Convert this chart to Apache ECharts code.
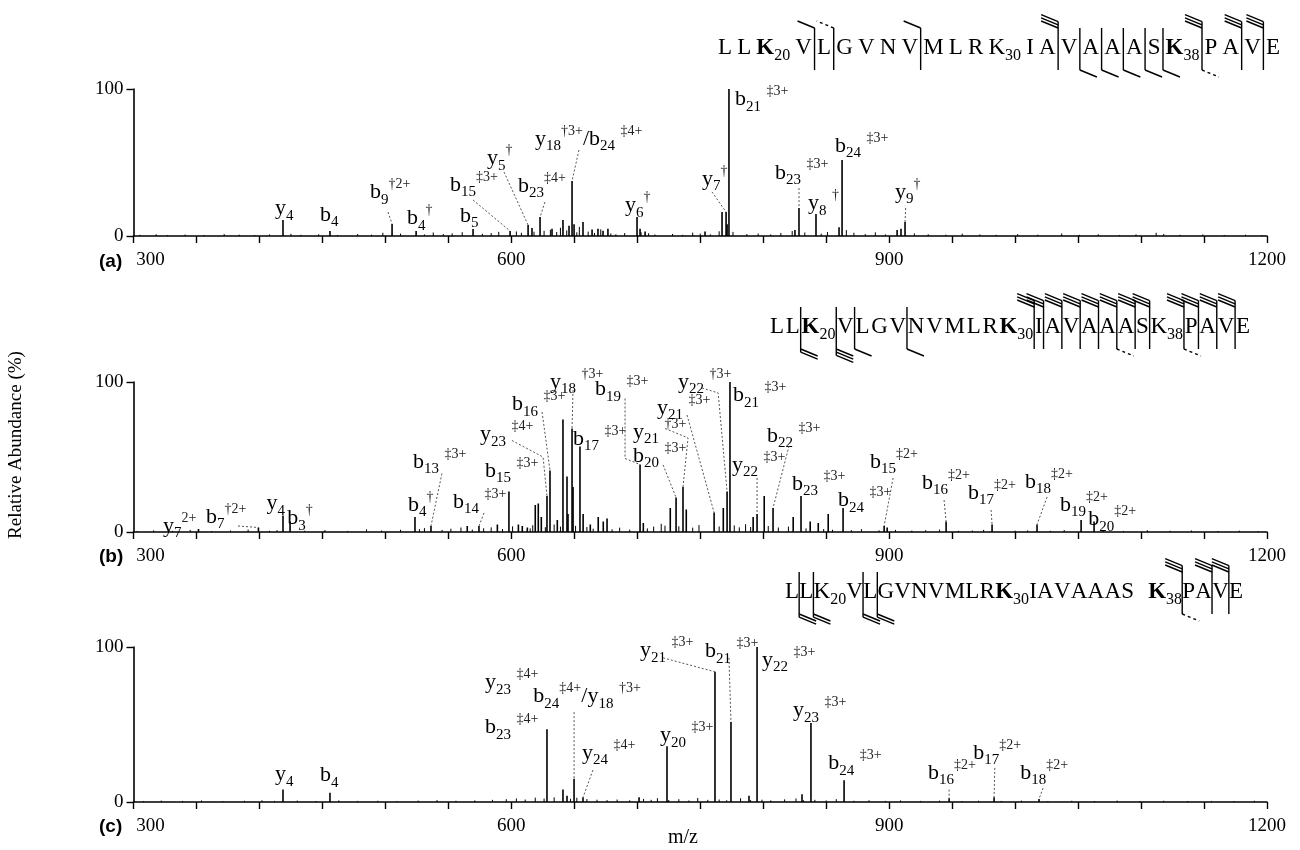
<!DOCTYPE html>
<html>
<head>
<meta charset="utf-8">
<script src="https://cdn.jsdelivr.net/npm/echarts@6/dist/echarts.min.js"></script>
<style>html,body{margin:0;padding:0;background:#fff}#main{width:1300px;height:850px}</style>
</head>
<body>
<div id="main"></div>
<script>
// ---------- spectrum data: [m/z, relative abundance %] ----------
const peaksA = [[418.7,10.9],[456.0,3.4],[505.3,8.2],[524.4,3.4],[569.6,4.8],[599.0,3.4],[613.3,7.5],[616.4,5.4],[622.8,12.9],[632.3,5],[641.0,10.9],[645.8,7],[648.2,37.4],[649.8,8],[656.9,9.5],[664.1,4.5],[668.8,5],[672.8,3.5],[676.7,5],[699.8,12.9],[702.2,5],[706.2,3],[753.8,3],[767.3,16.3],[770.5,16.3],[771.3,8],[772.8,100],[825.2,4],[828.4,19],[841.9,15],[860.2,6],[862.6,51.7],[906.3,4],[909.4,5],[912.6,9.5]];
const noiseA = [[305,0.8],[318,1.2],[327,0.6],[341,1.0],[356,0.7],[372,1.3],[384,0.9],[396,0.6],[408,1.1],[425,1.5],[433,0.8],[447,1.2],[462,0.7],[478,1.4],[489,0.9],[498,2.2],[512,1.6],[531,1.1],[538,2.4],[546,1.3],[553,1.8],[561,2.6],[577,1.5],[584,2.0],[590,2.8],[604,3.1],[608,2.2],[618,2.9],[626,3.5],[631,4.2],[636,2.7],[639,5.6],[644,3.8],[652,2.5],[654,6.2],[661,3.0],[666,2.1],[671,4.5],[679,1.7],[683,1.2],[690,2.0],[703,2.6],[709,1.9],[714,1.0],[728,1.4],[736,0.8],[744,2.3],[750,1.6],[758,1.1],[765,3.2],[776,2.8],[787,1.3],[796,1.7],[806,1.1],[814,2.1],[823,3.4],[833,2.4],[846,1.6],[851,2.7],[866,4.0],[872,2.2],[881,1.3],[889,2.5],[897,1.1],[920,1.8],[931,1.2],[945,0.9],[958,1.6],[972,1.1],[985,0.8],[1002,1.3],[1018,0.9],[1037,1.7],[1051,0.8],[1066,1.2],[1083,0.7],[1096,1.1],[1112,2.2],[1118,1.4],[1131,0.8],[1149,1.0],[1166,0.7],[1183,0.9],[1196,0.6]];

const peaksB = [[351.6,2],[399.2,3],[418.7,11],[424.3,7],[523.5,10],[536.2,4],[565,4],[574.3,4],[588.9,5],[598.1,27],[605.6,5],[608.7,4],[612.7,3],[619,18],[621.4,19],[623.8,10],[628.3,24],[630.7,41],[636.5,8],[641.0,75],[644.2,37],[645.0,12],[648.2,69],[649.0,30],[654.5,57],[657,12],[662.7,5],[669,10],[673,7],[676,9],[702.2,45],[704.8,6],[726.2,16],[730.8,23],[736.3,30],[738.9,15],[761.0,13],[768.3,16],[771.3,27],[773.6,100],[792,10],[795.1,12],[800.8,24],[807.8,16],[823.8,10],[830.0,24],[837.3,7],[843.7,6],[851.6,12],[863.4,16],[896.0,4],[898.4,3],[945.2,7],[981.7,5],[1017.4,5],[1052.4,8],[1062.7,7]];
const noiseB = [[303,0.7],[316,1.1],[331,0.8],[345,1.4],[362,0.6],[377,1.0],[391,1.6],[408,0.8],[414,1.2],[436,0.9],[452,1.3],[470,0.7],[485,1.8],[497,1.0],[512,1.5],[527,1.9],[531,2.6],[545,1.4],[552,2.2],[560,3.0],[569,1.6],[578,2.5],[584,3.1],[593,2.0],[601,3.8],[615,2.4],[617,4.5],[627,3.2],[634,5.0],[639,3.6],[651,4.1],[660,3.3],[665,2.2],[680,1.8],[686,2.9],[694,1.6],[708,2.4],[713,3.6],[719,5.5],[722,4.2],[733,3.8],[744,2.9],[749,4.6],[765,3.7],[777,4.4],[781,3.1],[786,5.2],[790,3.3],[804,4.0],[812,3.0],[820,3.6],[834,2.4],[848,2.0],[855,1.5],[870,1.2],[878,1.9],[892,1.1],[905,1.4],[918,0.9],[929,1.2],[940,1.6],[955,0.8],[966,1.0],[975,1.4],[1000,0.9],[1010,1.1],[1028,0.8],[1039,1.3],[1070,1.0],[1086,0.7],[1105,1.2],[1123,0.8],[1140,1.0],[1161,0.7],[1178,0.9],[1193,0.6]];

const peaksC = [[418.7,8],[456.0,6],[628.3,47],[641.0,8],[644.2,4],[649.8,15],[656.9,3],[701.4,3],[723.6,36],[761.7,84],[774.4,51.6],[788.7,4],[795.1,100],[830.8,5],[837.9,51],[864.2,14],[947.6,2.5],[983.3,3],[1019.0,2]];
const noiseC = [[308,0.6],[322,0.9],[339,0.7],[354,1.0],[371,0.6],[388,0.8],[402,1.1],[412,0.7],[430,0.9],[445,0.6],[463,1.0],[478,0.7],[494,0.8],[509,0.6],[526,0.9],[541,1.2],[556,0.8],[571,1.0],[585,1.4],[596,1.8],[604,2.3],[611,1.6],[619,2.8],[626,2.2],[634,3.0],[647,2.1],[652,2.7],[660,1.9],[668,1.5],[676,1.2],[684,1.6],[694,1.1],[705,2.0],[711,1.4],[716,2.4],[725,1.3],[733,1.8],[741,1.0],[748,2.6],[756,1.4],[765,1.6],[771,1.1],[782,2.4],[790,1.2],[799,1.5],[806,1.0],[817,1.7],[826,2.3],[832,1.1],[841,1.4],[850,1.0],[858,1.8],[872,0.8],[884,1.1],[897,0.7],[909,1.0],[925,0.7],[940,0.9],[958,0.6],[971,0.8],[989,0.7],[1005,0.9],[1026,0.6],[1045,0.8],[1063,0.6],[1081,0.9],[1099,0.6],[1118,0.8],[1137,0.6],[1156,0.7],[1174,0.6],[1190,0.8]];

// ---------- ion assignments: [peak m/z, ion name] ("_" subscript, "^" superscript) ----------
const ionsA = [[418.7,'y_4'],[456.0,'b_4'],[505.3,'b_9^†2+'],[524.4,'b_4^†'],[569.6,'b_5'],[599.0,'b_15^‡3+'],[613.3,'y_5^†'],[622.8,'b_23^‡4+'],[648.2,'y_18^†3+/b_24 ^‡4+'],[699.8,'y_6^†'],[770.5,'y_7^†'],[772.8,'b_21 ^‡3+'],[828.4,'b_23 ^‡3+'],[841.9,'y_8 ^†'],[862.6,'b_24 ^‡3+'],[912.6,'y_9^†']];
const ionsB = [[351.6,'y_7^2+'],[399.2,'b_7^†2+'],[418.7,'y_4'],[424.3,'b_3^†'],[523.5,'b_4^†'],[536.2,'b_13 ^‡3+'],[574.3,'b_14 ^‡3+'],[598.1,'b_15 ^‡3+'],[628.3,'y_23 ^‡4+'],[630.7,'b_16 ^‡3+'],[648.2,'y_18 ^†3+'],[654.5,'b_17 ^‡3+'],[702.2,'b_19 ^‡3+'],[730.8,'b_20 ^‡3+'],[736.3,'y_21 ^†3+'],[761.0,'y_21 ^‡3+'],[771.3,'y_22 ^†3+'],[773.6,'b_21 ^‡3+'],[795.1,'y_22 ^‡3+'],[807.8,'b_22 ^‡3+'],[830.0,'b_23 ^‡3+'],[863.4,'b_24 ^‡3+'],[896.0,'b_15^‡2+'],[945.2,'b_16^‡2+'],[981.7,'b_17^‡2+'],[1017.4,'b_18^‡2+'],[1052.4,'b_19^‡2+'],[1062.7,'b_20^‡2+']];
const ionsC = [[418.7,'y_4'],[456.0,'b_4'],[641.0,'b_23 ^‡4+'],[628.3,'y_23 ^‡4+'],[649.8,'b_24^‡4+/y_18 ^†3+'],[656.9,'y_24 ^‡4+'],[723.6,'y_20 ^‡3+'],[761.7,'y_21 ^‡3+'],[774.4,'b_21 ^‡3+'],[795.1,'y_22 ^‡3+'],[837.9,'y_23 ^‡3+'],[864.2,'b_24 ^‡3+'],[947.6,'b_16^‡2+'],[983.3,'b_17^‡2+'],[1019.0,'b_18^‡2+']];

// ---------- label placement (label anchor in axis units, optional leader bends) ----------
const placeA = [[412.4,19],[448.1,14.3],[487.8,29.5,[[502.1,16.3]]],[517.2,12.2],[559.3,13.6],[551.3,34.7,[[569.6,24.5]]],[580.7,53,[[594.2,43.5]]],[605.3,34,[[626.7,23.1]]],[618.8,66,[[653.7,58.5]]],[690.3,21],[751.4,38.8,[[759.3,30]]],[777.6,93],[809.4,43,[[828.4,32.6]]],[835.5,22.4],[857.0,61.2],[904.6,30,[[913.1,19]]]];
const placeB = [[323.4,4],[357.6,10,[[383,4]]],[405.6,19],[422,9],[518.0,18],[521.9,46.7,[[544.9,39]]],[553.7,20,[[578.3,12.7]]],[579.1,40.7],[575.1,65,[[600.5,61],[625.2,50]]],[600.5,85,[[624.4,80]]],[630.7,100,[[649.0,94.7]]],[649.0,62],[666.4,95,[[690.3,89],[690.3,49]]],[696.6,50.7,[[720.5,44.7]]],[696.6,66.7,[[722.1,69],[740.3,62.7]]],[715.7,82.7,[[739.5,78]]],[732.4,100,[[751.4,96],[764.2,92.7]]],[776.0,91],[775.2,44.7,[[795.1,36]]],[803.0,64,[[821.3,60]]],[822.9,32],[859.4,21],[884.8,46.7,[[903.1,36]]],[926.1,32.7,[[943.6,21.3]]],[962.6,26,[[980.9,14.7]]],[1007.9,33.3,[[1025.4,23.3]]],[1035.7,18],[1058,8.5]];
const placeC = [[412.4,18],[448.1,17],[579,48],[579,77],[617.5,68,[[649.8,58]]],[656.1,31.6,[[664.8,20.6]]],[718.1,43],[702.2,98,[[720.5,93]]],[753.8,97,[[772.8,93]]],[799.1,91.6],[823.7,59],[851.7,25],[930.9,18.7,[[947.6,8]]],[966.7,31.6,[[983.9,22]]],[1004.0,18.7,[[1022.2,9]]]];

// ---------- peptide sequence and fragmentation sites ----------
const residues = ['L','L','K','V','L','G','V','N','V','M','L','R','K','I','A','V','A','A','A','S','K','P','A','V','E'];
const residueNumbers = {2:'20', 12:'30', 20:'38'};
// i: cleavage after residue i; t/b: number of strokes on top (N-terminal) / bottom (C-terminal) hook; td/bd: dashed
const sitesA = [{i:3,t:1},{i:4,t:1,td:true},{i:8,t:1},{i:14,t:3},{i:15,b:1},{i:16,b:1},{i:17,b:1},{i:18,b:1},{i:19,b:1},{i:20,t:3,b:1,bd:true},{i:22,t:3},{i:23,t:3}];
const sitesB = [{i:1,b:2},{i:2,b:3},{i:3,b:1},{i:6,b:1},{i:12,t:3},{i:13,t:3},{i:14,t:3},{i:15,t:3},{i:16,t:3},{i:17,t:3,b:1,bd:true},{i:18,t:3},{i:19,t:3},{i:20,t:3,b:1,bd:true},{i:21,t:3},{i:22,t:3},{i:23,t:3}];
const sitesC = [{i:0,b:2},{i:1,b:2},{i:3,b:2},{i:4,b:2},{i:20,t:3,b:1,bd:true},{i:22,t:3},{i:23,t:3}];

const FONT = '"Liberation Serif","Times New Roman",serif';
const RICH = {
  m:   {fontFamily: FONT, fontSize: 22, lineHeight: 30, verticalAlign: 'middle', fill: '#000', color: '#000'},
  sub: {fontFamily: FONT, fontSize: 15, lineHeight: 13, verticalAlign: 'bottom', fill: '#000', color: '#000'},
  sup: {fontFamily: FONT, fontSize: 14, lineHeight: 19, verticalAlign: 'top', fill: '#222', color: '#222'}
};

function richLabel(s) {
  let out = '';
  const re = /(_[0-9]+)|(\^[^_^\/ ]+)|([^_^]+)/g;
  let m;
  while ((m = re.exec(s))) {
    if (m[1]) out += '{sub|' + m[1].slice(1) + '}';
    else if (m[2]) out += '{sup|' + m[2].slice(1) + '}';
    else out += '{m|' + m[3] + '}';
  }
  return out;
}

const grids = [
  {left: 133.5, width: 1133.5, top: 89, height: 147},
  {left: 133.5, width: 1133.5, top: 382, height: 150},
  {left: 133.5, width: 1133.5, top: 647, height: 155}
];

function xAxis(i) {
  return {
    gridIndex: i, type: 'value', min: 300, max: 1200, interval: 50,
    axisLine: {onZero: false, lineStyle: {color: '#000', width: 1.6}},
    axisTick: {length: 7, lineStyle: {color: '#000', width: 1.4}},
    axisLabel: {fontFamily: FONT, fontSize: 19, color: '#000', margin: 15,
      formatter: v => (v === 300 ? '{first|300}' : v % 300 === 0 ? String(v) : ''),
      rich: {first: {fontFamily: FONT, fontSize: 19, color: '#000', padding: [0, 0, 0, 34]}}},
    splitLine: {show: false}
  };
}
function yAxis(i) {
  return {
    gridIndex: i, type: 'value', min: 0, max: 100, interval: 100,
    axisLine: {show: true, lineStyle: {color: '#000', width: 1.6}},
    axisTick: {show: true, length: 7, lineStyle: {color: '#000', width: 1.4}},
    axisLabel: {fontFamily: FONT, fontSize: 19, color: '#000', margin: 10},
    splitLine: {show: false}
  };
}

function stickSeries(i, data, width) {
  return {
    type: 'custom', xAxisIndex: i, yAxisIndex: i, silent: true, z: 3,
    data: data, encode: {x: 0, y: 1},
    renderItem(params, api) {
      const p0 = api.coord([api.value(0), 0]);
      const p1 = api.coord([api.value(0), api.value(1)]);
      return {type: 'line', shape: {x1: p0[0], y1: p0[1], x2: p1[0], y2: p1[1]},
        style: {stroke: '#000', lineWidth: width}};
    }
  };
}

function labelSeries(i, ions, place, peaks) {
  return {
    type: 'custom', xAxisIndex: i, yAxisIndex: i, silent: true, clip: false, z: 5,
    data: place.map(p => [p[0], p[1]]), encode: {x: 0, y: 1},
    renderItem(params, api) {
      const k = params.dataIndex;
      const mz = ions[k][0];
      const pk = peaks.find(p => p[0] === mz);
      const lay = place[k];
      const a = api.coord([lay[0], lay[1]]);
      const kids = [{type: 'text', x: a[0], y: a[1],
        style: {text: richLabel(ions[k][1]), rich: RICH, align: 'left', verticalAlign: 'middle',
          textAlign: 'left', textVerticalAlign: 'middle'}}];
      if (lay[2]) {
        const pts = lay[2].map(q => api.coord(q));
        pts.push(api.coord([mz, pk[1]]));
        kids.push({type: 'polyline', shape: {points: pts},
          style: {stroke: '#555', lineWidth: 1, lineDash: [2, 2], fill: null}});
      }
      return {type: 'group', children: kids};
    }
  };
}

// sequence diagram with cleavage brackets, laid out between x0 and x1
function sequenceGraphic(cfg) {
  const FS = 23, SFS = 16;
  const ctx = document.createElement('canvas').getContext('2d');
  const w = residues.map((r, i) => {
    ctx.font = (cfg.bold.includes(i) ? 'bold ' : '') + FS + 'px ' + FONT;
    const lw = ctx.measureText(r).width;
    let sw = 0;
    if (residueNumbers[i]) { ctx.font = SFS + 'px ' + FONT; sw = ctx.measureText(residueNumbers[i]).width; }
    return [lw, sw];
  });
  const extra = cfg.extra || {};
  const natural = w.reduce((t, q) => t + q[0] + q[1], 0);
  const extraTotal = Object.values(extra).reduce((t, v) => t + v, 0);
  const gap = (cfg.x1 - cfg.x0 - natural - extraTotal) / (residues.length - 1);
  const els = [];
  const barX = [];
  let x = cfg.x0;
  residues.forEach((r, i) => {
    els.push({type: 'text', x: x, y: cfg.y, style: {text: r, fill: '#000',
      font: (cfg.bold.includes(i) ? 'bold ' : '') + FS + 'px ' + FONT,
      align: 'left', verticalAlign: 'middle', textAlign: 'left', textVerticalAlign: 'middle'}});
    x += w[i][0];
    if (residueNumbers[i]) {
      els.push({type: 'text', x: x, y: cfg.y + 8, style: {text: residueNumbers[i], fill: '#000',
        font: SFS + 'px ' + FONT, align: 'left', verticalAlign: 'middle', textAlign: 'left', textVerticalAlign: 'middle'}});
      x += w[i][1];
    }
    const e = extra[i] || 0;
    barX.push(x + (gap + e) / 2);
    x += gap + e;
  });
  const yT = cfg.y - 20, yB = cfg.y + 22, dx = 17, dy = 7, st = 3.2;
  const line = (pts, dashed) => ({type: 'polyline', shape: {points: pts},
    style: {stroke: '#000', lineWidth: 1.4, fill: null, lineDash: dashed ? [3, 3] : null}});
  cfg.sites.forEach(s => {
    const bx = barX[s.i];
    const t = s.t || 0, b = s.b || 0;
    const top = t ? yT - (t - 1) * st : yT;
    const bot = b ? yB + (b - 1) * st : yB;
    els.push(line([[bx, top], [bx, bot]], false));
    for (let k = 0; k < t; k++) {
      const yy = yT - k * st;
      els.push(line([[bx, yy], [bx - dx, yy - dy]], s.td));
    }
    for (let k = 0; k < b; k++) {
      const yy = yB + k * st;
      els.push(line([[bx, yy], [bx + dx, yy + dy]], s.bd));
    }
  });
  return els;
}

const chart = echarts.init(document.getElementById('main'), null, {renderer: 'canvas'});

const PANEL_FONT = 'bold 19px "Liberation Sans",Arial,sans-serif';
const textEls = [
  {type: 'text', x: 99, y: 262, style: {text: '(a)', font: PANEL_FONT, fill: '#000', verticalAlign: 'middle', textVerticalAlign: 'middle'}},
  {type: 'text', x: 99, y: 557, style: {text: '(b)', font: PANEL_FONT, fill: '#000', verticalAlign: 'middle', textVerticalAlign: 'middle'}},
  {type: 'text', x: 99, y: 827, style: {text: '(c)', font: PANEL_FONT, fill: '#000', verticalAlign: 'middle', textVerticalAlign: 'middle'}},
  {type: 'text', x: 16, y: 445, rotation: Math.PI / 2, style: {text: 'Relative Abundance (%)', font: '19px ' + FONT, fill: '#000', align: 'center', verticalAlign: 'middle', textAlign: 'center', textVerticalAlign: 'middle'}},
  {type: 'text', x: 683, y: 838, style: {text: 'm/z', font: '20px ' + FONT, fill: '#000', align: 'center', verticalAlign: 'middle', textAlign: 'center', textVerticalAlign: 'middle'}}
];

const seqEls = [].concat(
  sequenceGraphic({x0: 718, x1: 1280, y: 48, bold: [2, 20], sites: sitesA}),
  sequenceGraphic({x0: 770, x1: 1250, y: 327, bold: [2, 12], sites: sitesB}),
  sequenceGraphic({x0: 785, x1: 1243, y: 592, bold: [12, 20], sites: sitesC, extra: {19: 14}})
);

chart.setOption({
  animation: false,
  backgroundColor: '#fff',
  grid: grids,
  xAxis: [xAxis(0), xAxis(1), xAxis(2)],
  yAxis: [yAxis(0), yAxis(1), yAxis(2)],
  graphic: {elements: textEls.concat(seqEls)},
  series: [
    stickSeries(0, noiseA, 1), stickSeries(0, peaksA, 1.6), labelSeries(0, ionsA, placeA, peaksA),
    stickSeries(1, noiseB, 1), stickSeries(1, peaksB, 1.6), labelSeries(1, ionsB, placeB, peaksB),
    stickSeries(2, noiseC, 1), stickSeries(2, peaksC, 1.6), labelSeries(2, ionsC, placeC, peaksC)
  ]
});
</script>
</body>
</html>
